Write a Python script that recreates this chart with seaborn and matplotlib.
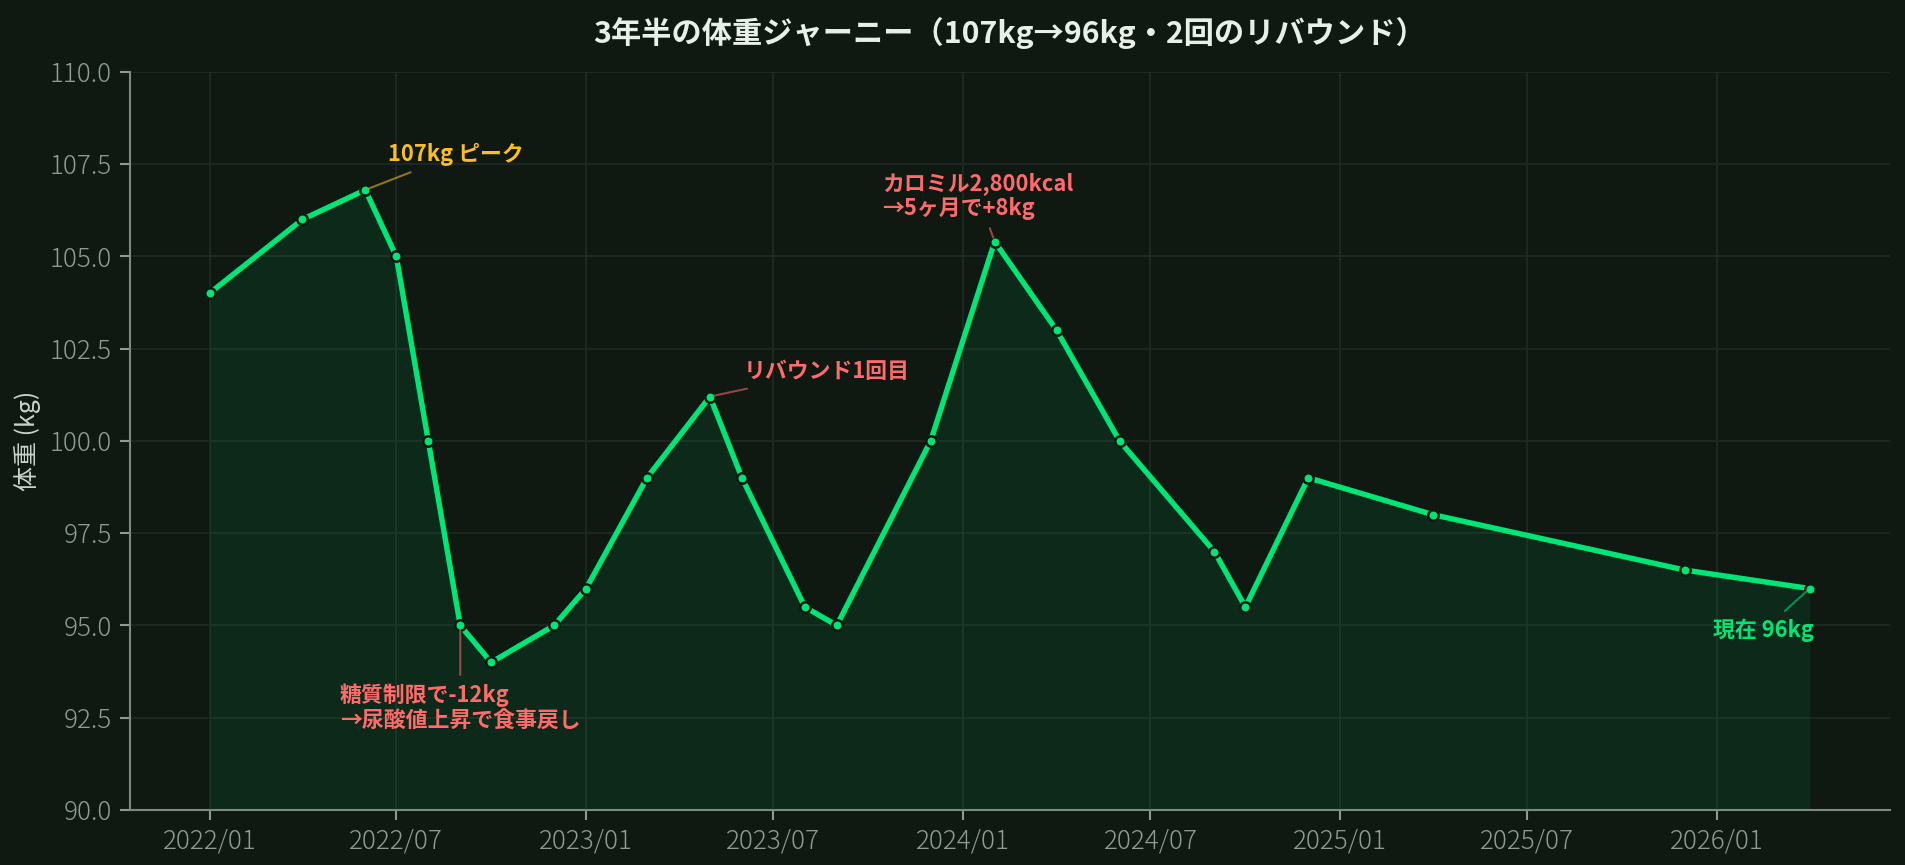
"""
3年半の体重ジャーニー — line chart with annotations.
"""
import pandas as pd
import numpy as np
import matplotlib
matplotlib.use('Agg')
import matplotlib.pyplot as plt
import matplotlib.dates as mdates
import seaborn as sns

BG = '#0f1912'
GREEN = '#00e676'
RED = '#ff6b6b'
YELLOW = '#fbbf24'
GRID = '#1e2b23'
TICK = '#8d9b91'

# data
dates = ['2022-01', '2022-04', '2022-06', '2022-07', '2022-08', '2022-09',
         '2022-10', '2022-12', '2023-01', '2023-03', '2023-05', '2023-06',
         '2023-08', '2023-09', '2023-12', '2024-02', '2024-04', '2024-06',
         '2024-09', '2024-10', '2024-12', '2025-04', '2025-12', '2026-04']
weights = [104.0, 106.0, 106.8, 105.0, 100.0, 95.0,
           94.0, 95.0, 96.0, 99.0, 101.2, 99.0,
           95.5, 95.0, 100.0, 105.4, 103.0, 100.0,
           97.0, 95.5, 99.0, 98.0, 96.5, 96.0]

# annotations: (date, text, color)
notes = [
    ('2022-06', '107kg ピーク', YELLOW),
    ('2022-09', '糖質制限で-12kg\n→尿酸値上昇で食事戻し', RED),
    ('2023-05', 'リバウンド1回目', RED),
    ('2024-02', 'カロミル2,800kcal\n→5ヶ月で+8kg', RED),
    ('2026-04', '現在 96kg', GREEN),
]

sns.set_theme(style='dark')
plt.rcParams['font.family'] = ['Noto Sans CJK JP', 'DejaVu Sans']
plt.rcParams['axes.unicode_minus'] = False

df = pd.DataFrame({'date': pd.to_datetime(dates), 'weight': weights})

fig, ax = plt.subplots(figsize=(12.7, 5.7667), dpi=150)
fig.patch.set_facecolor(BG)
ax.set_facecolor(BG)
fig.subplots_adjust(left=0.068, right=0.992, top=0.917, bottom=0.0636)

ax.fill_between(df['date'], df['weight'], 90, color=GREEN, alpha=0.08, lw=0)
sns.lineplot(data=df, x='date', y='weight', ax=ax, color=GREEN, linewidth=2.6,
             marker='o', markersize=5, markerfacecolor=GREEN,
             markeredgecolor=BG, markeredgewidth=1.2)

ax.set_ylim(90, 110)
ax.set_yticks(np.arange(90, 110.1, 2.5))
ax.yaxis.set_major_formatter(plt.FormatStrFormatter('%.1f'))
ax.xaxis.set_major_locator(mdates.MonthLocator(bymonth=[1, 7]))
ax.xaxis.set_major_formatter(mdates.DateFormatter('%Y/%m'))

ax.grid(True, color=GRID, linewidth=0.8)
ax.tick_params(colors=TICK, labelsize=12.5, length=5, width=1, left=True, bottom=True)
for lab in ax.get_xticklabels() + ax.get_yticklabels():
    lab.set_fontweight('light')
for s in ['top', 'right']:
    ax.spines[s].set_visible(False)
for s in ['left', 'bottom']:
    ax.spines[s].set_color('#7d8a80')
    ax.spines[s].set_linewidth(1)

ax.set_xlabel('')
ax.set_ylabel('体重 (kg)', color='#c9d2cb', fontsize=12, labelpad=4)
ax.set_title('3年半の体重ジャーニー（107kg→96kg・2回のリバウンド）',
             color='#e8efe9', fontsize=14.5, fontweight='bold', pad=14)

# text placement for each note
offsets = [
    ((11, 17), 'left', 'center'),
    ((0, -28), 'center', 'top'),
    ((16, 12), 'left', 'center'),
    ((-8, 22), 'center', 'center'),
    ((2, -20), 'right', 'center'),
]
lookup = dict(zip(dates, weights))
for (d, txt, col), (off, ha, va) in zip(notes, offsets):
    ax.annotate(txt, xy=(pd.Timestamp(d), lookup[d]), xytext=off,
                textcoords='offset points', ha=ha, va=va, multialignment='left',
                color=col, fontsize=10.5, fontweight='bold', linespacing=1.1,
                arrowprops=dict(arrowstyle='-', color=col, alpha=0.55, lw=1))

fig.savefig('out.png', dpi=150, facecolor=BG)
